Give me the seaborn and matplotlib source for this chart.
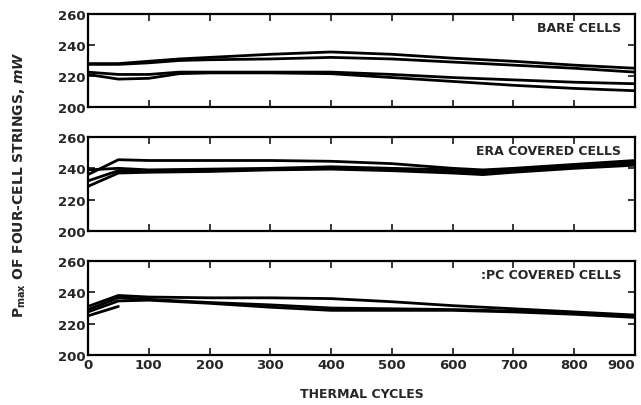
import numpy as np
import pandas as pd
import matplotlib
matplotlib.use("Agg")
import matplotlib.pyplot as plt
import seaborn as sns

# ---- data ----
cycles = [0, 50, 100, 150, 200, 300, 400, 500, 600, 700, 800, 900]
bare_1 = [228, 228, 229.5, 231, 232, 234, 235.5, 234, 231.5, 229.5, 227, 225]
bare_2 = [227.5, 227.5, 228.5, 230, 230.5, 231, 232, 231, 229, 227, 225, 222.5]
bare_3 = [222.5, 221, 221, 222.5, 222.5, 222.5, 222.5, 221, 219, 217.5, 216, 215]
bare_4 = [221, 218, 218.5, 221.5, 222, 222, 221.5, 219, 216.5, 214, 212, 210.5]

cycles_b = [0, 50, 100, 200, 300, 400, 500, 600, 650, 700, 800, 900]
era_1 = [236, 245.5, 245, 245, 245, 244.5, 243, 240, 239, 240, 242.5, 245]
era_2 = [239, 240, 239, 239.5, 240, 241, 240, 239, 238.5, 239.5, 242, 244.5]
era_3 = [232, 238.5, 238, 238.5, 239.5, 240, 239.5, 238, 237, 238.5, 241, 243]
era_4 = [228.5, 237, 237.5, 238, 239, 239.5, 238.5, 237, 236, 237.5, 240, 242]

cycles_c = [0, 50, 100, 200, 300, 400, 500, 600, 700, 800, 900]
pc_1 = [231, 238, 237, 236.5, 236.5, 236, 234, 231.5, 229.5, 227.5, 225.5]
pc_2 = [229, 236.5, 235.5, 233.5, 232, 230, 229.5, 229, 228, 227, 225]
pc_3 = [227.5, 234.5, 235, 233, 230.5, 228.5, 228.5, 228.5, 227.5, 226, 224]
cycles_short = [0, 50]
pc_4 = [225, 231]

panel_titles = ["BARE CELLS", "ERA COVERED CELLS", ":PC COVERED CELLS"]
y_ticks = [200, 220, 240, 260]
x_ticks = [0, 100, 200, 300, 400, 500, 600, 700, 800, 900]

def long(x, series):
    rows = []
    for name, vals in series.items():
        for xi, yi in zip(x, vals):
            rows.append({"cycles": xi, "pmax": yi, "string": name})
    return pd.DataFrame(rows)

df_a = long(cycles, {"a1": bare_1, "a2": bare_2, "a3": bare_3, "a4": bare_4})
df_b = long(cycles_b, {"b1": era_1, "b2": era_2, "b3": era_3, "b4": era_4})
df_c = pd.concat([long(cycles_c, {"c1": pc_1, "c2": pc_2, "c3": pc_3}),
                  long(cycles_short, {"c4": pc_4})], ignore_index=True)

sns.set_style("ticks")
plt.rcParams["font.family"] = ["DejaVu Sans"]
plt.rcParams["font.weight"] = "bold"

fig = plt.figure(figsize=(6.41, 4.06), dpi=100)
W = 641.0
H = 406.0
boxes = [(15, 108), (138, 232), (262, 356)]
left, right = 88, 635
axes = []
for top, bot in boxes:
    ax = fig.add_axes([left / W, 1 - bot / H, (right - left) / W, (bot - top) / H])
    axes.append(ax)

for ax, df, title in zip(axes, [df_a, df_b, df_c], panel_titles):
    names = df["string"].unique()
    sns.lineplot(data=df, x="cycles", y="pmax", hue="string",
                 palette={n: "black" for n in names}, linewidth=2.0,
                 legend=False, ax=ax, estimator=None)
    ax.set_xlim(0, 900)
    ax.set_ylim(200, 260)
    ax.set_yticks(y_ticks)
    ax.set_xticks(x_ticks)
    ax.tick_params(direction="in", length=5, width=1.3, top=True, right=True,
                   labelsize=9.5, pad=2)
    for lab in ax.get_yticklabels() + ax.get_xticklabels():
        lab.set_fontweight("bold")
    for sp in ax.spines.values():
        sp.set_linewidth(1.6)
        sp.set_color("black")
    ax.set_xlabel("")
    ax.set_ylabel("")
    ax.text(0.975, 0.86, title, transform=ax.transAxes, ha="right", va="center",
            fontsize=9, fontweight="bold")

for ax in axes[:2]:
    ax.tick_params(labelbottom=False)

xl = axes[2].get_xticklabels()
xl[-1].set_horizontalalignment("right")
xl[-1].set_x(1.0)

axes[2].set_xlabel("THERMAL CYCLES", fontsize=9, fontweight="bold", labelpad=12)
fig.text(20 / W, 1 - 185 / H, r"P$_{\mathregular{max}}$ OF FOUR-CELL STRINGS, $mW$",
         rotation=90, ha="center", va="center", fontsize=10, fontweight="bold")

fig.savefig("out.png", dpi=100)
